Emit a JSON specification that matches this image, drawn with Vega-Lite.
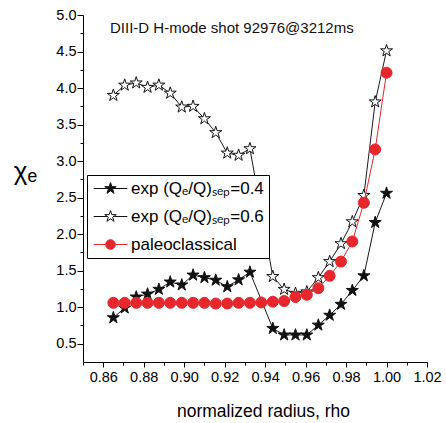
{
  "$schema": "https://vega.github.io/schema/vega-lite/v6.json",
  "width": 344,
  "height": 347,
  "autosize": {"type": "none"},
  "padding": {"left": 83, "top": 15, "right": 19, "bottom": 61},
  "background": "white",
  "title": {
    "text": "DIII-D H-mode shot 92976@3212ms",
    "anchor": "start",
    "frame": "group",
    "dx": 27,
    "offset": -41,
    "baseline": "alphabetic",
    "font": "Liberation Sans",
    "fontSize": 15,
    "fontWeight": "normal",
    "color": "#111111"
  },
  "config": {
    "view": {"stroke": null},
    "axis": {"grid": false, "domainColor": "black", "tickColor": "black", "labelColor": "black", "titleColor": "black", "labelFlush": false, "labelOverlap": false, "labelBound": false}
  },
  "data": {
    "values": [
      {"series": "exp (Qₑ/Q)ₛₑₚ=0.4", "rho": 0.865, "chi": 0.856},
      {"series": "exp (Qₑ/Q)ₛₑₚ=0.4", "rho": 0.8706, "chi": 0.99},
      {"series": "exp (Qₑ/Q)ₛₑₚ=0.4", "rho": 0.8763, "chi": 1.14},
      {"series": "exp (Qₑ/Q)ₛₑₚ=0.4", "rho": 0.8819, "chi": 1.18},
      {"series": "exp (Qₑ/Q)ₛₑₚ=0.4", "rho": 0.8875, "chi": 1.245},
      {"series": "exp (Qₑ/Q)ₛₑₚ=0.4", "rho": 0.8931, "chi": 1.345},
      {"series": "exp (Qₑ/Q)ₛₑₚ=0.4", "rho": 0.8988, "chi": 1.305},
      {"series": "exp (Qₑ/Q)ₛₑₚ=0.4", "rho": 0.9044, "chi": 1.44},
      {"series": "exp (Qₑ/Q)ₛₑₚ=0.4", "rho": 0.91, "chi": 1.405},
      {"series": "exp (Qₑ/Q)ₛₑₚ=0.4", "rho": 0.9156, "chi": 1.37},
      {"series": "exp (Qₑ/Q)ₛₑₚ=0.4", "rho": 0.9213, "chi": 1.28},
      {"series": "exp (Qₑ/Q)ₛₑₚ=0.4", "rho": 0.9269, "chi": 1.375},
      {"series": "exp (Qₑ/Q)ₛₑₚ=0.4", "rho": 0.9325, "chi": 1.48},
      {"series": "exp (Qₑ/Q)ₛₑₚ=0.4", "rho": 0.9438, "chi": 0.71},
      {"series": "exp (Qₑ/Q)ₛₑₚ=0.4", "rho": 0.9494, "chi": 0.62},
      {"series": "exp (Qₑ/Q)ₛₑₚ=0.4", "rho": 0.955, "chi": 0.62},
      {"series": "exp (Qₑ/Q)ₛₑₚ=0.4", "rho": 0.9606, "chi": 0.62},
      {"series": "exp (Qₑ/Q)ₛₑₚ=0.4", "rho": 0.9663, "chi": 0.755},
      {"series": "exp (Qₑ/Q)ₛₑₚ=0.4", "rho": 0.9719, "chi": 0.89},
      {"series": "exp (Qₑ/Q)ₛₑₚ=0.4", "rho": 0.9775, "chi": 1.04},
      {"series": "exp (Qₑ/Q)ₛₑₚ=0.4", "rho": 0.9831, "chi": 1.23},
      {"series": "exp (Qₑ/Q)ₛₑₚ=0.4", "rho": 0.9888, "chi": 1.43},
      {"series": "exp (Qₑ/Q)ₛₑₚ=0.4", "rho": 0.9944, "chi": 2.16},
      {"series": "exp (Qₑ/Q)ₛₑₚ=0.4", "rho": 1.0, "chi": 2.56},
      {"series": "exp (Qₑ/Q)ₛₑₚ=0.6", "rho": 0.865, "chi": 3.9},
      {"series": "exp (Qₑ/Q)ₛₑₚ=0.6", "rho": 0.8706, "chi": 4.04},
      {"series": "exp (Qₑ/Q)ₛₑₚ=0.6", "rho": 0.8763, "chi": 4.07},
      {"series": "exp (Qₑ/Q)ₛₑₚ=0.6", "rho": 0.8819, "chi": 4.01},
      {"series": "exp (Qₑ/Q)ₛₑₚ=0.6", "rho": 0.8875, "chi": 4.04},
      {"series": "exp (Qₑ/Q)ₛₑₚ=0.6", "rho": 0.8931, "chi": 3.93},
      {"series": "exp (Qₑ/Q)ₛₑₚ=0.6", "rho": 0.8988, "chi": 3.74},
      {"series": "exp (Qₑ/Q)ₛₑₚ=0.6", "rho": 0.9044, "chi": 3.75},
      {"series": "exp (Qₑ/Q)ₛₑₚ=0.6", "rho": 0.91, "chi": 3.58},
      {"series": "exp (Qₑ/Q)ₛₑₚ=0.6", "rho": 0.9156, "chi": 3.39},
      {"series": "exp (Qₑ/Q)ₛₑₚ=0.6", "rho": 0.9213, "chi": 3.11},
      {"series": "exp (Qₑ/Q)ₛₑₚ=0.6", "rho": 0.9269, "chi": 3.08},
      {"series": "exp (Qₑ/Q)ₛₑₚ=0.6", "rho": 0.9325, "chi": 3.17},
      {"series": "exp (Qₑ/Q)ₛₑₚ=0.6", "rho": 0.9381, "chi": 2.3},
      {"series": "exp (Qₑ/Q)ₛₑₚ=0.6", "rho": 0.9438, "chi": 1.42},
      {"series": "exp (Qₑ/Q)ₛₑₚ=0.6", "rho": 0.9494, "chi": 1.245},
      {"series": "exp (Qₑ/Q)ₛₑₚ=0.6", "rho": 0.955, "chi": 1.19},
      {"series": "exp (Qₑ/Q)ₛₑₚ=0.6", "rho": 0.9606, "chi": 1.21},
      {"series": "exp (Qₑ/Q)ₛₑₚ=0.6", "rho": 0.9663, "chi": 1.405},
      {"series": "exp (Qₑ/Q)ₛₑₚ=0.6", "rho": 0.9719, "chi": 1.625},
      {"series": "exp (Qₑ/Q)ₛₑₚ=0.6", "rho": 0.9775, "chi": 1.87},
      {"series": "exp (Qₑ/Q)ₛₑₚ=0.6", "rho": 0.9831, "chi": 2.17},
      {"series": "exp (Qₑ/Q)ₛₑₚ=0.6", "rho": 0.9888, "chi": 2.53},
      {"series": "exp (Qₑ/Q)ₛₑₚ=0.6", "rho": 0.9944, "chi": 3.81},
      {"series": "exp (Qₑ/Q)ₛₑₚ=0.6", "rho": 1.0, "chi": 4.51},
      {"series": "paleoclassical", "rho": 0.865, "chi": 1.06},
      {"series": "paleoclassical", "rho": 0.8706, "chi": 1.06},
      {"series": "paleoclassical", "rho": 0.8763, "chi": 1.06},
      {"series": "paleoclassical", "rho": 0.8819, "chi": 1.06},
      {"series": "paleoclassical", "rho": 0.8875, "chi": 1.06},
      {"series": "paleoclassical", "rho": 0.8931, "chi": 1.06},
      {"series": "paleoclassical", "rho": 0.8988, "chi": 1.06},
      {"series": "paleoclassical", "rho": 0.9044, "chi": 1.06},
      {"series": "paleoclassical", "rho": 0.91, "chi": 1.06},
      {"series": "paleoclassical", "rho": 0.9156, "chi": 1.05},
      {"series": "paleoclassical", "rho": 0.9213, "chi": 1.05},
      {"series": "paleoclassical", "rho": 0.9269, "chi": 1.06},
      {"series": "paleoclassical", "rho": 0.9325, "chi": 1.06},
      {"series": "paleoclassical", "rho": 0.9381, "chi": 1.065},
      {"series": "paleoclassical", "rho": 0.9438, "chi": 1.075},
      {"series": "paleoclassical", "rho": 0.9494, "chi": 1.085},
      {"series": "paleoclassical", "rho": 0.955, "chi": 1.14},
      {"series": "paleoclassical", "rho": 0.9606, "chi": 1.17},
      {"series": "paleoclassical", "rho": 0.9663, "chi": 1.26},
      {"series": "paleoclassical", "rho": 0.9719, "chi": 1.43},
      {"series": "paleoclassical", "rho": 0.9775, "chi": 1.625},
      {"series": "paleoclassical", "rho": 0.9831, "chi": 1.9},
      {"series": "paleoclassical", "rho": 0.9888, "chi": 2.43},
      {"series": "paleoclassical", "rho": 0.9944, "chi": 3.16},
      {"series": "paleoclassical", "rho": 1.0, "chi": 4.21}
    ]
  },
  "encoding": {
    "x": {
      "field": "rho",
      "type": "quantitative",
      "scale": {"domain": [0.85, 1.02], "nice": false, "zero": false},
      "axis": {
        "values": [0.85, 0.86, 0.87, 0.88, 0.89, 0.9, 0.91, 0.92, 0.93, 0.94, 0.95, 0.96, 0.97, 0.98, 0.99, 1.0, 1.01, 1.02],
        "labelExpr": "round(datum.value*100) % 2 == 0 ? format(datum.value, '.2f') : ''",
        "tickSize": {"condition": {"test": "round(datum.value*100) % 2 == 0", "value": 5}, "value": 3},
        "labelFont": "Liberation Sans",
        "labelFontSize": 14.5,
        "labelPadding": 3,
        "title": "normalized radius, rho",
        "titleFont": "Liberation Sans",
        "titleFontSize": 17.5,
        "titleFontWeight": "normal",
        "titleX": 180,
        "titleY": 54,
        "titleAlign": "center",
        "titleBaseline": "alphabetic"
      }
    },
    "y": {
      "field": "chi",
      "type": "quantitative",
      "scale": {"domain": [0.25, 5.0], "nice": false, "zero": false},
      "axis": {
        "values": [0.5, 0.75, 1.0, 1.25, 1.5, 1.75, 2.0, 2.25, 2.5, 2.75, 3.0, 3.25, 3.5, 3.75, 4.0, 4.25, 4.5, 4.75, 5.0],
        "labelExpr": "round(datum.value*100) % 50 == 0 ? format(datum.value, '.1f') : ''",
        "tickSize": {"condition": {"test": "round(datum.value*100) % 50 == 0", "value": 6}, "value": 3},
        "labelFont": "Liberation Sans",
        "labelFontSize": 14.5,
        "labelPadding": 1,
        "title": "χₑ",
        "titleFont": "Liberation Sans",
        "titleFontSize": 26,
        "titleFontWeight": "normal",
        "titleAngle": 0,
        "titleX": -58,
        "titleY": 156,
        "titleAlign": "center",
        "titleBaseline": "middle"
      }
    }
  },
  "layer": [
    {
      "transform": [{"filter": "datum.series != 'paleoclassical'"}],
      "mark": {"type": "line", "stroke": "#1a1a1a", "strokeWidth": 1},
      "encoding": {"detail": {"field": "series", "type": "nominal"}}
    },
    {
      "transform": [{"filter": "indexof(datum.series, '0.4') >= 0"}],
      "mark": {"type": "point", "shape": "M0,-1L0.2245,-0.309L0.9511,-0.309L0.3633,0.118L0.5878,0.809L0,0.382L-0.5878,0.809L-0.3633,0.118L-0.9511,-0.309L-0.2245,-0.309Z", "size": 160, "filled": true, "fill": "#111111", "stroke": "#111111", "strokeWidth": 1, "opacity": 1}
    },
    {
      "transform": [{"filter": "indexof(datum.series, '0.6') >= 0"}],
      "mark": {"type": "point", "shape": "M0,-1L0.2245,-0.309L0.9511,-0.309L0.3633,0.118L0.5878,0.809L0,0.382L-0.5878,0.809L-0.3633,0.118L-0.9511,-0.309L-0.2245,-0.309Z", "size": 160, "filled": true, "fill": "white", "stroke": "#111111", "strokeWidth": 1, "opacity": 1}
    },
    {
      "transform": [{"filter": "datum.series == 'paleoclassical'"}],
      "mark": {"type": "line", "stroke": "#e8272d", "strokeWidth": 1}
    },
    {
      "transform": [{"filter": "datum.series == 'paleoclassical'"}],
      "mark": {"type": "point", "shape": "circle", "size": 121, "filled": true, "fill": "#e8272d", "stroke": "#e8272d", "strokeWidth": 1, "opacity": 1}
    },
    {
      "mark": {
        "type": "point",
        "size": 0,
        "opacity": 1,
        "filled": true,
        "strokeWidth": 1,
        "fill": {"expr": "indexof('' + (datum.value || datum.series), '0.6') >= 0 ? 'white' : ((datum.value || datum.series) == 'paleoclassical' ? '#e8272d' : '#111111')"},
        "stroke": {"expr": "(datum.value || datum.series) == 'paleoclassical' ? '#e8272d' : '#111111'"}
      },
      "encoding": {
        "shape": {
          "field": "series",
          "type": "nominal",
          "scale": {
            "domain": ["exp (Qₑ/Q)ₛₑₚ=0.4", "exp (Qₑ/Q)ₛₑₚ=0.6", "paleoclassical"],
            "range": [
              "M0,-1L0.2245,-0.309L0.9511,-0.309L0.3633,0.118L0.5878,0.809L0,0.382L-0.5878,0.809L-0.3633,0.118L-0.9511,-0.309L-0.2245,-0.309ZM-2.8,0L-0.53,0M0.53,0L2.8,0",
              "M0,-1L0.2245,-0.309L0.9511,-0.309L0.3633,0.118L0.5878,0.809L0,0.382L-0.5878,0.809L-0.3633,0.118L-0.9511,-0.309L-0.2245,-0.309ZM-2.8,0L-0.53,0M0.53,0L2.8,0",
              "M0.8,0A0.8,0.8,0,1,1,-0.8,0A0.8,0.8,0,1,1,0.8,0ZM-2.8,0L-0.8,0M0.8,0L2.8,0"
            ]
          },
          "legend": {
            "title": null,
            "orient": "none",
            "legendX": 4,
            "legendY": 160,
            "strokeColor": "black",
            "fillColor": "white",
            "padding": 5,
            "labelFont": "Liberation Sans",
            "labelFontSize": 17,
            "labelColor": "black",
            "labelLimit": 400,
            "symbolSize": 144,
            "symbolStrokeWidth": 1,
            "symbolOffset": 10,
            "labelOffset": 12,
            "rowPadding": 10
          }
        }
      }
    }
  ]
}
